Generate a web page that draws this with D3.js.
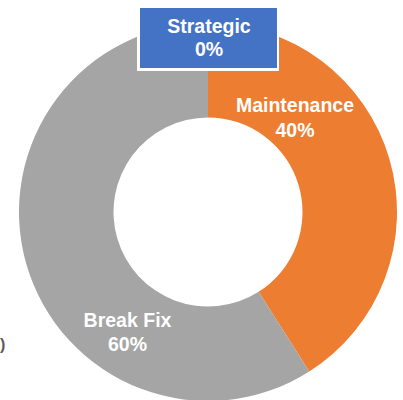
<!DOCTYPE html>
<html>
<head>
<meta charset="utf-8">
<script src="https://cdn.jsdelivr.net/npm/d3@7"></script>
<style>
  html, body { margin: 0; padding: 0; background: #fff; }
  svg { display: block; }
  text { font-family: "Liberation Sans", Arial, sans-serif; font-weight: bold; }
</style>
</head>
<body>
<svg id="chart" width="403" height="400"></svg>
<script>
const categories = ["Strategic", "Maintenance", "Break Fix"];
const values = [0, 41, 59];
const percentLabels = ["0%", "40%", "60%"];
const colors = ["#4472C4", "#ED7D31", "#A5A5A5"];

const W = 403, H = 400;
const cx = 208, cy = 212, outerR = 189, innerR = 94.5;

// label anchor positions (layout, not data)
const labelPos = [
  { x: 209, y1: 33, y2: 56, box: true },
  { x: 295, y1: 112, y2: 137 },
  { x: 127.5, y1: 327, y2: 351 }
];

const svg = d3.select("#chart");
const g = svg.append("g").attr("transform", `translate(${cx},${cy})`);

const pie = d3.pie().sort(null).value(d => d.v);
const data = categories.map((c, i) => ({ c, v: values[i], p: percentLabels[i], color: colors[i] }));
const arcs = pie(data);
const arc = d3.arc().innerRadius(innerR).outerRadius(outerR);

g.selectAll("path").data(arcs).join("path")
  .attr("d", arc)
  .attr("fill", d => d.data.color);

arcs.forEach((a, i) => {
  const lp = labelPos[i];
  if (lp.box) {
    svg.append("rect").attr("x", 137).attr("y", 5).attr("width", 142).attr("height", 66).attr("fill", "#fff");
    svg.append("rect").attr("x", 140).attr("y", 8).attr("width", 137).attr("height", 60).attr("fill", a.data.color);
  }
  svg.append("text").attr("x", lp.x).attr("y", lp.y1).attr("text-anchor", "middle")
    .attr("fill", "#fff").attr("font-size", 19.5).text(a.data.c);
  svg.append("text").attr("x", lp.x).attr("y", lp.y2).attr("text-anchor", "middle")
    .attr("fill", "#fff").attr("font-size", 19.5).text(a.data.p);
});

// partial stray mark at left edge
svg.append("text").attr("x", 0).attr("y", 350).attr("text-anchor", "start")
  .attr("fill", "#595959").attr("font-weight", "normal").attr("font-size", 16).text(")");
</script>
</body>
</html>
